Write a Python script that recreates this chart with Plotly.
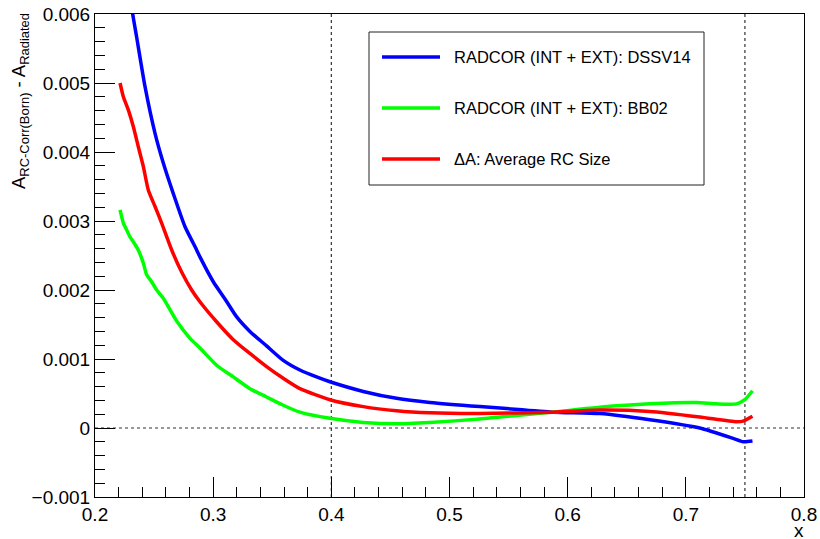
import plotly.graph_objects as go

# Asymmetry difference vs. Bjorken x for each radiative-correction model
x_dssv = [0.222, 0.2319, 0.2352, 0.2423, 0.2508, 0.2578, 0.2662, 0.2761, 0.2846, 0.2888,
          0.3001, 0.3100, 0.3199, 0.3311, 0.3452, 0.3593, 0.3734, 0.3875, 0.3988, 0.4270,
          0.4552, 0.4834, 0.5257, 0.5426, 0.5877, 0.6272, 0.6695, 0.7118, 0.7400, 0.7485,
          0.7564]
y_dssv = [0.0072, 0.00600, 0.00567, 0.00495, 0.00427, 0.00384, 0.00340, 0.00292, 0.00263,
          0.00248, 0.00212, 0.00187, 0.00161, 0.00140, 0.00119, 0.00098, 0.00084, 0.00074,
          0.00067, 0.00053, 0.00043, 0.00037, 0.00031, 0.00029, 0.00023, 0.00021, 0.00012,
          0.0, -0.00015, -0.00020, -0.00019]

x_bb02 = [0.2212, 0.2240, 0.2268, 0.2296, 0.2324, 0.2366, 0.2409, 0.2437, 0.2479, 0.2522,
          0.2578, 0.2691, 0.2804, 0.2888, 0.3029, 0.3170, 0.3311, 0.3452, 0.3593, 0.3734,
          0.3988, 0.4270, 0.4552, 0.4834, 0.5257, 0.5426, 0.5877, 0.6272, 0.6695, 0.7090,
          0.7259, 0.7429, 0.7499, 0.7564]
y_bb02 = [0.00316, 0.00297, 0.00287, 0.00277, 0.00270, 0.00258, 0.00239, 0.00222, 0.00212,
          0.00200, 0.00188, 0.00155, 0.00130, 0.00116, 0.00091, 0.00074, 0.00057, 0.00045,
          0.00033, 0.00023, 0.00014, 0.00008, 0.00006, 0.00008, 0.00013, 0.00016, 0.00023,
          0.00030, 0.00035, 0.00037, 0.00035, 0.00035, 0.00041, 0.00054]

x_avg = [0.2212, 0.2240, 0.2282, 0.2324, 0.2366, 0.2409, 0.2451, 0.2508, 0.2564, 0.2649,
         0.2733, 0.2818, 0.2888, 0.3029, 0.3170, 0.3311, 0.3452, 0.3593, 0.3734, 0.3988,
         0.4270, 0.4552, 0.4834, 0.5257, 0.5877, 0.6272, 0.6695, 0.7118, 0.7429, 0.7485,
         0.7564]
y_avg = [0.00500, 0.00480, 0.00461, 0.00437, 0.00408, 0.00379, 0.00345, 0.00321, 0.00297,
         0.00258, 0.00226, 0.00200, 0.00183, 0.00154, 0.00128, 0.00108, 0.00089, 0.00072,
         0.00057, 0.00041, 0.00031, 0.00025, 0.00022, 0.00021, 0.00023, 0.00026, 0.00024,
         0.00016, 0.00009, 0.00010, 0.00017]

series = [
    ("RADCOR (INT + EXT): DSSV14", x_dssv, y_dssv, "#0000ff"),
    ("RADCOR (INT + EXT): BB02", x_bb02, y_bb02, "#00ff00"),
    ("\u0394A: Average RC Size", x_avg, y_avg, "#ff0000"),
]

X_RANGE = [0.2, 0.8]
Y_RANGE = [-0.001, 0.006]
X_CUTS = [0.4, 0.75]

W, H = 820, 539
ML, MR, MT, MB = 95, 16, 14, 42
PW, PH = W - ML - MR, H - MT - MB
FONT = "Liberation Sans, Arial, Helvetica, sans-serif"


def px(xp):
    return (xp - ML) / PW


def py(yp):
    return 1 - (yp - MT) / PH


fig = go.Figure()
for name, xs, ys, col in series:
    fig.add_trace(go.Scatter(x=xs, y=ys, mode="lines", name=name,
                             line=dict(color=col, width=3.5, shape="spline", smoothing=0.6),
                             showlegend=False))

shapes = []
dot = dict(color="#333333", width=1.2, dash="dot")
shapes.append(dict(type="line", xref="x", yref="y", x0=X_RANGE[0], x1=X_RANGE[1],
                   y0=0, y1=0, line=dot, layer="below"))
for xc in X_CUTS:
    shapes.append(dict(type="line", xref="x", yref="y", x0=xc, x1=xc,
                       y0=Y_RANGE[0], y1=Y_RANGE[1], line=dot, layer="below"))

# legend box
shapes.append(dict(type="rect", xref="paper", yref="paper",
                   x0=px(369), x1=px(704), y0=py(185), y1=py(32),
                   line=dict(color="#222222", width=1), fillcolor="white", layer="above"))
annotations = []
for i, (name, xs, ys, col) in enumerate(series):
    yy = py(57 + 51 * i)
    shapes.append(dict(type="line", xref="paper", yref="paper",
                       x0=px(382), x1=px(440), y0=yy, y1=yy,
                       line=dict(color=col, width=3.5), layer="above"))
    annotations.append(dict(xref="paper", yref="paper", x=px(452), y=yy,
                            xanchor="left", yanchor="middle", showarrow=False,
                            text=name, font=dict(family=FONT, size=16.5, color="black")))

annotations.append(dict(xref="paper", yref="paper", x=px(20), y=py(11),
                        xanchor="center", yanchor="top", textangle=-90, showarrow=False,
                        text="A<sub>RC-Corr(Born)</sub> - A<sub>Radiated</sub>",
                        font=dict(family=FONT, size=18.5, color="black")))
annotations.append(dict(xref="paper", yref="paper", x=px(799), y=py(530),
                        xanchor="center", yanchor="middle", showarrow=False,
                        text="x", font=dict(family=FONT, size=19, color="black")))

axis_common = dict(showline=True, linecolor="black", linewidth=1, mirror=True,
                   ticks="inside", tickcolor="black", ticklen=20, tickwidth=1,
                   showgrid=False, zeroline=False, automargin=False,
                   tickfont=dict(family=FONT, size=19, color="black"))

fig.update_layout(
    width=W, height=H,
    margin=dict(l=ML, r=MR, t=MT, b=MB, autoexpand=False),
    paper_bgcolor="white", plot_bgcolor="white",
    xaxis=dict(range=X_RANGE, dtick=0.1, tick0=0.2,
               minor=dict(dtick=0.02, ticks="inside", ticklen=10, tickcolor="black"),
               **axis_common),
    yaxis=dict(range=Y_RANGE, dtick=0.001, tick0=0,
               minor=dict(dtick=0.0002, ticks="inside", ticklen=10, tickcolor="black"),
               **axis_common),
    shapes=shapes,
    annotations=annotations,
)

fig.write_html("out.html")
